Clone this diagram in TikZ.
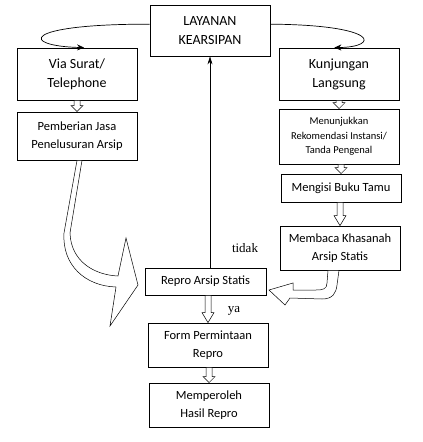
\documentclass[tikz,border=0pt]{standalone}
\usepackage{fontspec}
\setmainfont{Carlito}
\newfontfamily\notefont{Liberation Serif}
\usetikzlibrary{arrows.meta,calc}

% hollow block arrow straight down from #1 to #2, head length #3
\newcommand{\blockdown}[3]{%
  \draw [hollow]
  ($(#1.south -| #2.north) + (-3,0)$) -- ($(#2.north) + (-3,-#3)$)
  -- ($(#2.north) + (-6,-#3)$) -- (#2.north)
  -- ($(#2.north) + (6,-#3)$) -- ($(#2.north) + (3,-#3)$)
  -- ($(#1.south -| #2.north) + (3,0)$) -- cycle;}

\begin{document}
\begin{tikzpicture}[
    x = 1pt, y = -1pt,
    box/.style = {draw,
      line width = 0.8pt,
      align = center,
      inner sep = 0pt,
      minimum width = 120pt},
    bigtext/.style = {font = \fontsize{14}{19}\selectfont},
    midtext/.style = {font = \fontsize{12.5}{17.5}\selectfont},
    smalltext/.style = {font = \fontsize{10.5}{14.5}\selectfont},
    note/.style = {font = \notefont\fontsize{13}{15}\selectfont},
    hollow/.style = {draw, fill = white, line width = 0.5pt},
    link/.style = {line width = 0.7pt,
      -{Stealth[length = 7pt, width = 6pt]}},
    ]

    \useasboundingbox (0, 0) rectangle (423, 442);

    \node at (210, 30.5)
    [box, bigtext, minimum height = 51pt, name = layanan] {LAYANAN\\KEARSIPAN};

    \node at (77, 74)
    [box, bigtext, minimum height = 52pt, name = surat] {Via Surat/\\Telephone};
    \node at (339, 74)
    [box, bigtext, minimum height = 52pt, name = kunjungan] {Kunjungan\\Langsung};

    \node at (77, 136)
    [box, midtext, minimum height = 48pt, name = pemberian]
    {Pemberian Jasa\\Penelusuran Arsip};
    \node at (339, 136.5)
    [box, smalltext, minimum height = 55pt, name = menunjukkan]
    {Menunjukkan\\Rekomendasi Instansi/\\Tanda Pengenal};

    \node at (341, 188)
    [box, midtext, minimum height = 28pt, name = mengisi] {Mengisi Buku Tamu};
    \node at (340, 248)
    [box, midtext, minimum height = 44pt, name = membaca]
    {Membaca Khasanah\\Arsip Statis};

    \node at (205.5, 281.5)
    [box, midtext, minimum width = 121pt, minimum height = 27pt, name = repro]
    {Repro Arsip Statis};
    \node at (208, 345)
    [box, midtext, minimum height = 44pt, name = form] {Form Permintaan\\Repro};
    \node at (209, 405)
    [box, midtext, minimum height = 44pt, name = hasil] {Memperoleh\\Hasil Repro};

    \node at (245, 248) [note, name = tidak] {tidak};
    \node at (234, 311) [note, name = ya] {ya};

    % looping arrows from the top box
    \draw [link] (layanan.174) .. controls (20, 24) and (20, 46) .. (surat.75);
    \draw [link] (layanan.6) .. controls (380, 25) and (380, 47) .. (kunjungan.100);

    \draw [link, -{Stealth[length = 8pt, width = 5pt]}]
    (repro.north -| layanan.south) -- (layanan.south);

    % straight block arrows
    \blockdown{surat}{pemberian}{6}
    \blockdown{kunjungan}{menunjukkan}{6}
    \blockdown{menunjukkan}{mengisi}{6}
    \blockdown{mengisi}{membaca}{10}
    \blockdown{repro}{form}{10}
    \blockdown{form}{hasil}{6}

    % curved block arrows into the repro box
    \draw [hollow] ($(pemberian.south) + (5, 0)$) -- (70, 233)
    .. controls (71, 262) and (95, 275) .. (118, 276)
    -- (126, 238) -- (138, 285) -- (110, 326) -- (116, 287)
    .. controls (85, 286) and (62, 265) .. (64, 233)
    -- (pemberian.south) -- cycle;

    \draw [hollow] ($(membaca.south) + (-12, 0)$) -- (327, 283)
    .. controls (327, 289) and (323, 290) .. (316, 290)
    -- (293, 290) -- (293, 283) -- (269, 290) -- (285, 305) -- (290, 298)
    -- (322, 299) .. controls (333, 299) and (336, 293) .. (337, 285)
    -- ($(membaca.south) + (-1, 0)$) -- cycle;

  \end{tikzpicture}
\end{document}
